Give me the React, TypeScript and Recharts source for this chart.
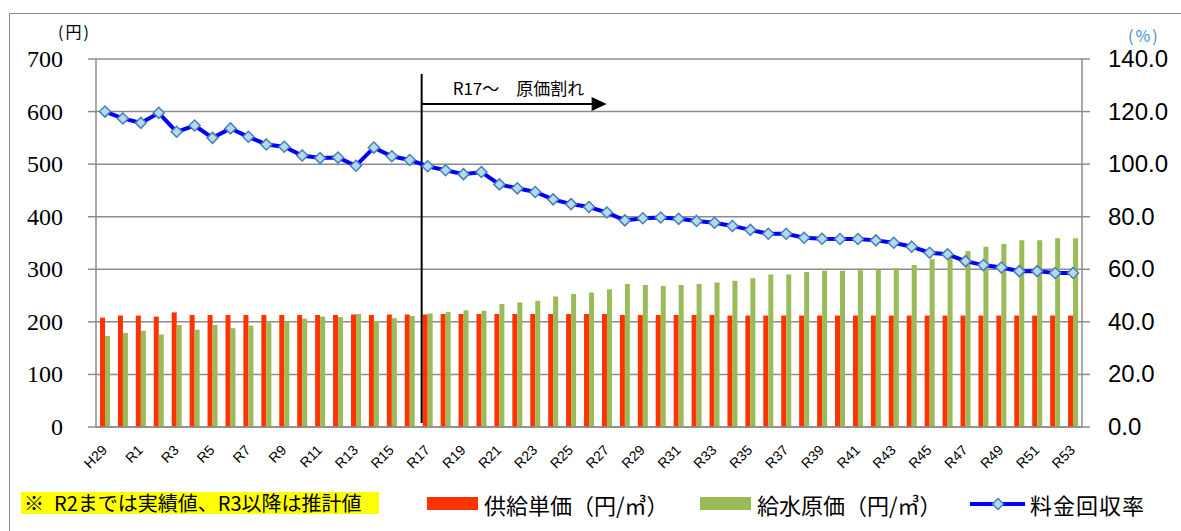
import React from 'react';
import { ComposedChart, Bar, Line, XAxis, YAxis, CartesianGrid, ReferenceLine } from 'recharts';

const categories = [
  'H29', 'H30', 'R1', 'R2', 'R3', 'R4', 'R5', 'R6', 'R7', 'R8', 'R9', 'R10',
  'R11', 'R12', 'R13', 'R14', 'R15', 'R16', 'R17', 'R18', 'R19', 'R20',
  'R21', 'R22', 'R23', 'R24', 'R25', 'R26', 'R27', 'R28', 'R29', 'R30',
  'R31', 'R32', 'R33', 'R34', 'R35', 'R36', 'R37', 'R38', 'R39', 'R40',
  'R41', 'R42', 'R43', 'R44', 'R45', 'R46', 'R47', 'R48', 'R49', 'R50',
  'R51', 'R52', 'R53',
];

// 供給単価（円/㎥）
const supplyUnitPrice = [
  208, 212, 212, 210, 218, 213, 213, 213, 213, 213, 213, 213,
  213, 213, 214, 213, 214, 214, 214, 215, 215, 215,
  215, 215, 215, 215, 215, 215, 215, 213, 213, 213,
  213, 213, 213, 212, 212, 212, 212, 212, 212, 212,
  212, 212, 212, 212, 212, 212, 212, 212, 212, 212,
  212, 212, 212,
];

// 給水原価（円/㎥）
const waterSupplyCost = [
  173, 179, 183, 176, 194, 185, 194, 188, 193, 199, 200, 206,
  210, 209, 215, 202, 207, 211, 216, 219, 222, 221,
  234, 237, 240, 248, 253, 256, 262, 272, 270, 268,
  270, 272, 275, 278, 283, 290, 290, 295, 297, 297,
  298, 299, 302, 308, 319, 323, 335, 343, 348, 355,
  355, 359, 359,
];

// 料金回収率（%）
const recoveryRate = [
  120.0, 117.4, 115.7, 119.5, 112.3, 114.7, 110.0, 113.6, 110.4, 107.5, 106.6, 103.3,
  102.3, 102.5, 99.4, 106.3, 103.0, 101.6, 99.2, 97.7, 96.2, 97.0,
  92.3, 90.8, 89.4, 86.6, 84.8, 83.7, 81.6, 78.6, 79.4, 79.7,
  79.2, 78.4, 77.7, 76.5, 75.0, 73.5, 73.5, 72.0, 71.6, 71.5,
  71.5, 71.0, 70.1, 68.6, 66.3, 65.7, 63.1, 61.6, 60.7, 59.3,
  59.3, 58.6, 58.6,
];

const leftTicks = [0, 100, 200, 300, 400, 500, 600, 700];
const rightTicks = [0, 20, 40, 60, 80, 100, 120, 140];

const data = categories.map((c, i) => ({
  cat: c,
  supply: supplyUnitPrice[i],
  cost: waterSupplyCost[i],
  rate: recoveryRate[i],
}));

const RED = '#FF3300';
const GREEN = '#9BBB59';
const BLUE = '#0000FF';
const GRID = '#8C8C8C';
const JP = '"Noto Sans CJK JP", "Noto Sans", sans-serif';
const SERIF = "'Liberation Serif', 'Times New Roman', Times, 'DejaVu Serif', serif";

const XTick = (props: any) => {
  const { x, y, payload } = props;
  return (
    <text
      transform={`translate(${x + 3},${y + 24}) rotate(-45)`}
      textAnchor="end"
      fontFamily="Liberation Sans"
      fontSize={14}
      fill="#000"
    >
      {payload.value}
    </text>
  );
};

const LeftTick = (props: any) => {
  const { x, y, payload } = props;
  return (
    <text
      x={x}
      y={y}
      dy={8}
      textAnchor="end"
      fontFamily={SERIF}
      fontSize={24}
      fill="#000"
      style={{ fontFamily: SERIF, fontSize: 24 }}
    >
      {payload.value}
    </text>
  );
};

const RightTick = (props: any) => {
  const { x, y, payload } = props;
  return (
    <text
      x={x}
      y={y}
      dy={8}
      textAnchor="start"
      fontFamily="Liberation Sans"
      fontSize={24}
      fill="#000"
    >
      {Number(payload.value).toFixed(1)}
    </text>
  );
};

const Diamond = (props: any) => {
  const { cx, cy, index } = props;
  if (cx == null || cy == null) return <g key={`d${index}`} />;
  const r = 5.5;
  return (
    <path
      key={`d${index}`}
      d={`M${cx},${cy - r} L${cx + r},${cy} L${cx},${cy + r} L${cx - r},${cy} Z`}
      fill="#B3DCEB"
      stroke="#4A7EBB"
      strokeWidth={1.5}
    />
  );
};

const Annotation = (props: any) => {
  const { x1, y1, y2 } = props;
  const x = x1 - 6;
  const top = Math.min(y1, y2);
  const bottom = Math.max(y1, y2);
  const ay = top + 45;
  const tip = x + 185;
  return (
    <g>
      <line x1={x} x2={x} y1={top + 15} y2={bottom - 4} stroke="#000" strokeWidth={2} />
      <line x1={x} x2={tip - 14} y1={ay} y2={ay} stroke="#000" strokeWidth={2} />
      <path d={`M${tip - 15},${ay - 7} L${tip},${ay} L${tip - 15},${ay + 7} Z`} fill="#000" />
      <text x={x + 31} y={top + 36} style={{ fontSize: 17, fontFamily: JP }} fill="#000">
        R17～　原価割れ
      </text>
    </g>
  );
};

export default function App() {
  return (
    <div
      style={{
        position: 'absolute',
        left: 0,
        top: 0,
        width: 1181,
        height: 531,
        overflow: 'hidden',
        background: '#fff',
      }}
    >
      <div
        style={{
          position: 'absolute',
          left: 9,
          top: 13,
          width: 1300,
          height: 700,
          border: `1.5px solid ${GRID}`,
        }}
      />
      <div
        style={{
          position: 'absolute',
          left: 58,
          top: 21,
          fontFamily: JP,
          fontSize: 16,
          lineHeight: '20px',
          letterSpacing: 2,
          color: '#000',
          whiteSpace: 'nowrap',
        }}
      >
        (円)
      </div>
      <div
        style={{
          position: 'absolute',
          left: 1128,
          top: 25,
          fontFamily: JP,
          fontSize: 16,
          lineHeight: '20px',
          color: '#3A8FD8',
          letterSpacing: 2,
          whiteSpace: 'nowrap',
        }}
      >
        (%)
      </div>
      <div style={{ position: 'absolute', left: 0, top: 0 }}>
        <ComposedChart
          width={1181}
          height={531}
          data={data}
          margin={{ top: 59, right: 0, bottom: 0, left: 0 }}
          barGap={0}
        >
          <CartesianGrid
            yAxisId="left"
            vertical={false}
            stroke={GRID}
            strokeWidth={1.5}
          />
          <XAxis
            dataKey="cat"
            height={104}
            interval={1}
            tickLine={false}
            tickSize={0}
            tickMargin={0}
            axisLine={{ stroke: GRID, strokeWidth: 1.5 }}
            tick={<XTick />}
          />
          <YAxis
            yAxisId="left"
            orientation="left"
            domain={[0, 700]}
            ticks={leftTicks}
            interval={0}
            width={96}
            tickSize={8}
            tickMargin={25}
            axisLine={{ stroke: GRID, strokeWidth: 1.5 }}
            tickLine={{ stroke: GRID, strokeWidth: 1.5 }}
            tick={<LeftTick />}
          />
          <YAxis
            yAxisId="right"
            orientation="right"
            domain={[0, 140]}
            ticks={rightTicks}
            interval={0}
            width={99}
            tickSize={8}
            tickMargin={18}
            axisLine={{ stroke: GRID, strokeWidth: 1.5 }}
            tickLine={{ stroke: GRID, strokeWidth: 1.5 }}
            tick={<RightTick />}
          />
          <Bar yAxisId="left" dataKey="supply" fill={RED} barSize={5} isAnimationActive={false} />
          <Bar yAxisId="left" dataKey="cost" fill={GREEN} barSize={5} isAnimationActive={false} />
          <ReferenceLine yAxisId="left" x="R17" shape={Annotation} />
          <Line
            yAxisId="right"
            type="linear"
            dataKey="rate"
            stroke={BLUE}
            strokeWidth={4}
            dot={Diamond}
            activeDot={false}
            isAnimationActive={false}
          />
        </ComposedChart>
      </div>

      {/* Legend row */}
      <div
        style={{
          position: 'absolute',
          left: 21,
          top: 492,
          width: 358,
          height: 22,
          background: '#FFFF00',
        }}
      />
      <div
        style={{
          position: 'absolute',
          left: 24,
          top: 491,
          fontFamily: JP,
          fontSize: 20,
          lineHeight: '24px',
          color: '#000',
          whiteSpace: 'nowrap',
        }}
      >
        {'※\u2002R2までは実績値、R3以降は推計値'}
      </div>
      <div style={{ position: 'absolute', left: 427, top: 497, width: 51, height: 13, background: RED }} />
      <div
        style={{
          position: 'absolute',
          left: 484,
          top: 492,
          fontFamily: JP,
          fontSize: 22,
          lineHeight: '24px',
          color: '#000',
          whiteSpace: 'nowrap',
        }}
      >
        供給単価（円/㎥）
      </div>
      <div style={{ position: 'absolute', left: 700, top: 497, width: 51, height: 13, background: GREEN }} />
      <div
        style={{
          position: 'absolute',
          left: 757,
          top: 492,
          fontFamily: JP,
          fontSize: 22,
          lineHeight: '24px',
          color: '#000',
          whiteSpace: 'nowrap',
        }}
      >
        給水原価（円/㎥）
      </div>
      <svg style={{ position: 'absolute', left: 968, top: 494 }} width={60} height={20}>
        <line x1={2} x2={57} y1={10} y2={10} stroke={BLUE} strokeWidth={4} />
        <path d="M30,4.5 L35.5,10 L30,15.5 L24.5,10 Z" fill="#B3DCEB" stroke="#4A7EBB" strokeWidth={1.5} />
      </svg>
      <div
        style={{
          position: 'absolute',
          left: 1030,
          top: 492,
          fontFamily: JP,
          fontSize: 22,
          lineHeight: '24px',
          letterSpacing: 1,
          color: '#000',
          whiteSpace: 'nowrap',
        }}
      >
        料金回収率
      </div>
    </div>
  );
}
